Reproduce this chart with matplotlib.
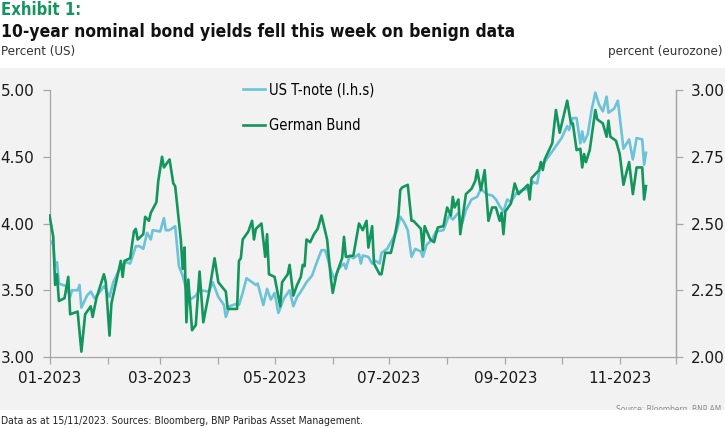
import matplotlib
matplotlib.use("Agg")
import matplotlib.pyplot as plt
import matplotlib.dates as mdates
from matplotlib.patches import Rectangle
import pandas as pd

# 10-year yields
us_dates = [
    "01-01", "01-03", "01-04", "01-05", "01-06", "01-08", "01-10", "01-12", "01-13", "01-16",
    "01-17", "01-18", "01-21", "01-23", "01-25", "01-28", "01-30", "01-31", "02-02", "02-04",
    "02-08", "02-11", "02-13", "02-16", "02-18", "02-20", "02-22", "02-24", "02-25", "03-01",
    "03-03", "03-04", "03-06", "03-09", "03-11", "03-13", "03-15", "03-17", "03-20", "03-22",
    "03-27", "03-29", "04-01", "04-04", "04-05", "04-07", "04-11", "04-12", "04-14", "04-16",
    "04-19", "04-21", "04-22", "04-25", "04-27", "04-29", "05-01", "05-03", "05-06", "05-09",
    "05-11", "05-13", "05-15", "05-18", "05-21", "05-23", "05-26", "05-28", "05-31", "06-02",
    "06-04", "06-07", "06-08", "06-10", "06-12", "06-15", "06-16", "06-17", "06-20", "06-22",
    "06-24", "06-26", "06-27", "06-30", "07-02", "07-05", "07-07", "07-09", "07-11", "07-13",
    "07-15", "07-18", "07-19", "07-21", "07-24", "07-26", "07-30", "08-02", "08-04", "08-07",
    "08-09", "08-11", "08-14", "08-17", "08-19", "08-22", "08-25", "08-27", "08-29", "08-31",
    "09-02", "09-04", "09-07", "09-10", "09-13", "09-16", "09-18", "09-20", "09-21", "09-24",
    "09-26", "09-28", "10-01", "10-04", "10-05", "10-07", "10-09", "10-11", "10-12", "10-13",
    "10-15", "10-17", "10-19", "10-21", "10-23", "10-25", "10-26", "10-29", "10-31", "11-02",
    "11-03", "11-06", "11-08", "11-10", "11-13", "11-14", "11-15",
]
us_yield = [
    3.88, 3.84, 3.68, 3.71, 3.55, 3.54, 3.53, 3.45, 3.50, 3.50,
    3.54, 3.37, 3.46, 3.49, 3.44, 3.49, 3.53, 3.51, 3.45, 3.56,
    3.68, 3.71, 3.70, 3.83, 3.83, 3.81, 3.93, 3.88, 3.95, 3.94,
    4.04, 3.95, 3.95, 3.98, 3.68, 3.61, 3.50, 3.43, 3.46, 3.50,
    3.49, 3.56, 3.45, 3.39, 3.30, 3.38, 3.40, 3.39, 3.48, 3.59,
    3.56, 3.54, 3.55, 3.39, 3.51, 3.43, 3.48, 3.33, 3.44, 3.50,
    3.38, 3.45, 3.49, 3.56, 3.61, 3.69, 3.80, 3.80, 3.65, 3.58,
    3.66, 3.70, 3.66, 3.76, 3.74, 3.77, 3.70, 3.76, 3.75, 3.70,
    3.72, 3.70, 3.78, 3.81, 3.86, 3.94, 4.05, 4.01, 3.95, 3.75,
    3.81, 3.79, 3.75, 3.84, 3.88, 3.94, 3.95, 4.06, 4.03, 4.08,
    4.00, 4.10, 4.18, 4.20, 4.26, 4.22, 4.21, 4.18, 4.13, 4.09,
    4.18, 4.16, 4.23, 4.25, 4.26, 4.31, 4.30, 4.46, 4.44, 4.50,
    4.54, 4.58, 4.64, 4.73, 4.70, 4.79, 4.79, 4.60, 4.69, 4.61,
    4.67, 4.85, 4.98, 4.89, 4.84, 4.95, 4.83, 4.86, 4.92, 4.68,
    4.56, 4.63, 4.48, 4.64, 4.63, 4.44, 4.53,
]

bund_dates = [
    "01-01", "01-03", "01-04", "01-05", "01-06", "01-09", "01-11", "01-12", "01-16", "01-18",
    "01-20", "01-23", "01-24", "01-26", "01-30", "01-31", "02-02", "02-03", "02-08", "02-09",
    "02-10", "02-13", "02-15", "02-16", "02-17", "02-20", "02-21", "02-23", "02-24", "02-27",
    "02-28", "03-02", "03-03", "03-06", "03-08", "03-09", "03-12", "03-13", "03-14", "03-15",
    "03-16", "03-18", "03-20", "03-22", "03-24", "03-27", "03-30", "04-01", "04-05", "04-06",
    "04-11", "04-12", "04-13", "04-14", "04-17", "04-19", "04-20", "04-21", "04-24", "04-26",
    "04-27", "04-28", "05-01", "05-04", "05-05", "05-08", "05-09", "05-11", "05-13", "05-15",
    "05-16", "05-17", "05-18", "05-20", "05-22", "05-24", "05-26", "05-29", "05-31", "06-01",
    "06-03", "06-06", "06-07", "06-08", "06-12", "06-15", "06-17", "06-19", "06-20", "06-22",
    "06-23", "06-26", "06-27", "06-29", "07-02", "07-04", "07-06", "07-07", "07-08", "07-11",
    "07-13", "07-14", "07-18", "07-19", "07-20", "07-23", "07-25", "07-27", "07-30", "08-01",
    "08-03", "08-04", "08-05", "08-07", "08-08", "08-11", "08-14", "08-16", "08-17", "08-19",
    "08-21", "08-23", "08-25", "08-27", "08-29", "08-30", "08-31", "09-01", "09-04", "09-06",
    "09-08", "09-13", "09-14", "09-15", "09-19", "09-20", "09-21", "09-22", "09-24", "09-26",
    "09-28", "09-30", "10-04", "10-06", "10-07", "10-09", "10-11", "10-12", "10-13", "10-14",
    "10-16", "10-19", "10-20", "10-23", "10-25", "10-26", "10-27", "10-30", "11-01", "11-03",
    "11-04", "11-06", "11-08", "11-10", "11-13", "11-14", "11-15",
]
bund_yield = [
    2.53, 2.45, 2.27, 2.31, 2.21, 2.22, 2.30, 2.16, 2.17, 2.02,
    2.16, 2.19, 2.15, 2.22, 2.31, 2.28, 2.08, 2.20, 2.36, 2.30,
    2.36, 2.37, 2.47, 2.48, 2.44, 2.46, 2.525, 2.51, 2.54, 2.58,
    2.66, 2.75, 2.71, 2.74, 2.65, 2.64, 2.44, 2.33, 2.41, 2.13,
    2.29, 2.10, 2.12, 2.32, 2.13, 2.24, 2.37, 2.28, 2.245, 2.18,
    2.18, 2.36, 2.37, 2.44, 2.47, 2.51, 2.44, 2.48, 2.50, 2.375,
    2.46, 2.31, 2.30, 2.19, 2.28, 2.31, 2.345, 2.23, 2.27, 2.30,
    2.345, 2.34, 2.44, 2.43, 2.46, 2.48, 2.53, 2.44, 2.295, 2.24,
    2.31, 2.37, 2.45, 2.375, 2.38, 2.50, 2.475, 2.51, 2.41, 2.49,
    2.35, 2.31, 2.31, 2.39, 2.39, 2.45, 2.53, 2.625, 2.635, 2.645,
    2.51, 2.51, 2.48, 2.40, 2.49, 2.44, 2.43, 2.485, 2.49, 2.56,
    2.53, 2.60, 2.56, 2.59, 2.46, 2.61, 2.63, 2.66, 2.70, 2.625,
    2.70, 2.51, 2.56, 2.56, 2.51, 2.54, 2.46, 2.545, 2.575, 2.65,
    2.61, 2.645, 2.59, 2.67, 2.70, 2.73, 2.70, 2.74, 2.77, 2.80,
    2.925, 2.84, 2.96, 2.875, 2.875, 2.775, 2.78, 2.71, 2.76, 2.73,
    2.775, 2.925, 2.89, 2.875, 2.825, 2.885, 2.825, 2.81, 2.76, 2.645,
    2.675, 2.73, 2.61, 2.71, 2.71, 2.59, 2.64,
]

us_ticks = [3.0, 3.5, 4.0, 4.5, 5.0]
eu_ticks = [2.0, 2.25, 2.5, 2.75, 3.0]

GREEN = "#13965e"
BLUE = "#6cc3d8"
PANEL = "#f2f2f2"
SPINE = "#a6a6a6"
COND = dict(family="DejaVu Sans", stretch="condensed")

us_x = pd.to_datetime(["2023-" + d for d in us_dates])
bund_x = pd.to_datetime(["2023-" + d for d in bund_dates])

fig = plt.figure(figsize=(7.25, 4.28), dpi=100)
fig.patches.append(Rectangle((0, 18 / 428), 1, 342 / 428, transform=fig.transFigure,
                             facecolor=PANEL, edgecolor="none", zorder=-5))

ax = fig.add_axes([49.5 / 725, 71 / 428, 626.5 / 725, 267 / 428])
ax.patch.set_visible(False)
ax2 = ax.twinx()
ax.set_zorder(1)
ax2.set_zorder(2)
ax2.patch.set_visible(False)

l_us, = ax.plot(us_x, us_yield, color=BLUE, lw=1.9, label="US T-note (l.h.s)")
l_de, = ax2.plot(bund_x, bund_yield, color=GREEN, lw=1.9, label="German Bund")

ax.set_xlim(pd.Timestamp("2023-01-01"), pd.Timestamp("2023-12-01"))
ax.set_ylim(3.0, 5.0)
ax2.set_ylim(2.0, 3.0)
ax.set_yticks(us_ticks)
ax.set_yticklabels([f"{v:.2f}" for v in us_ticks])
ax2.set_yticks(eu_ticks)
ax2.set_yticklabels([f"{v:.2f}" for v in eu_ticks])

ax.xaxis.set_major_locator(mdates.MonthLocator())
ax.xaxis.set_major_formatter(
    plt.FuncFormatter(lambda v, p: mdates.num2date(v).strftime("%m-%Y")
                      if mdates.num2date(v).month % 2 == 1 else ""))

for a in (ax, ax2):
    a.spines["top"].set_visible(False)
    for s in ("left", "right", "bottom"):
        a.spines[s].set_color(SPINE)
        a.spines[s].set_linewidth(0.9)
    a.tick_params(which="both", color=SPINE, length=5, width=0.9,
                  labelsize=11, labelcolor="#1a1a1a", pad=6)
ax.tick_params(axis="x", pad=5)
ax2.spines["left"].set_visible(False)
ax2.spines["bottom"].set_visible(False)

ax2.legend(handles=[l_us, l_de], loc="upper left", bbox_to_anchor=(230 / 725, 1 - 69 / 428),
           bbox_transform=fig.transFigure, frameon=False,
           handlelength=1.5, handletextpad=0.25, labelspacing=1.45,
           prop=dict(size=10.5, **COND))

fig.text(0.002, 1 - 10 / 428, "Exhibit 1:", color=GREEN, fontsize=12, fontweight="bold",
         va="center", ha="left", **COND)
fig.text(0.002, 1 - 32 / 428, "10-year nominal bond yields fell this week on benign data",
         color="#111111", fontsize=12.5, fontweight="bold", va="center", ha="left", **COND)
fig.text(0.002, 1 - 51 / 428, "Percent (US)", color="#333333", fontsize=9.5,
         va="center", ha="left", **COND)
fig.text(0.997, 1 - 51 / 428, "percent (eurozone)", color="#333333", fontsize=9.5,
         va="center", ha="right", **COND)

fig.text(0.995, 18 / 428, "Source: Bloomberg, BNP AM", color="#8c8c8c", fontsize=6,
         va="center", ha="right", zorder=1, **COND)
fig.patches.append(Rectangle((0, 0), 1, 18 / 428, transform=fig.transFigure,
                             facecolor="white", edgecolor="none", zorder=4))
fig.text(0.002, 1 - 421 / 428,
         "Data as at 15/11/2023. Sources: Bloomberg, BNP Paribas Asset Management.",
         color="#222222", fontsize=7.5, va="center", ha="left", zorder=5, **COND)

fig.savefig("out.png", dpi=100)
